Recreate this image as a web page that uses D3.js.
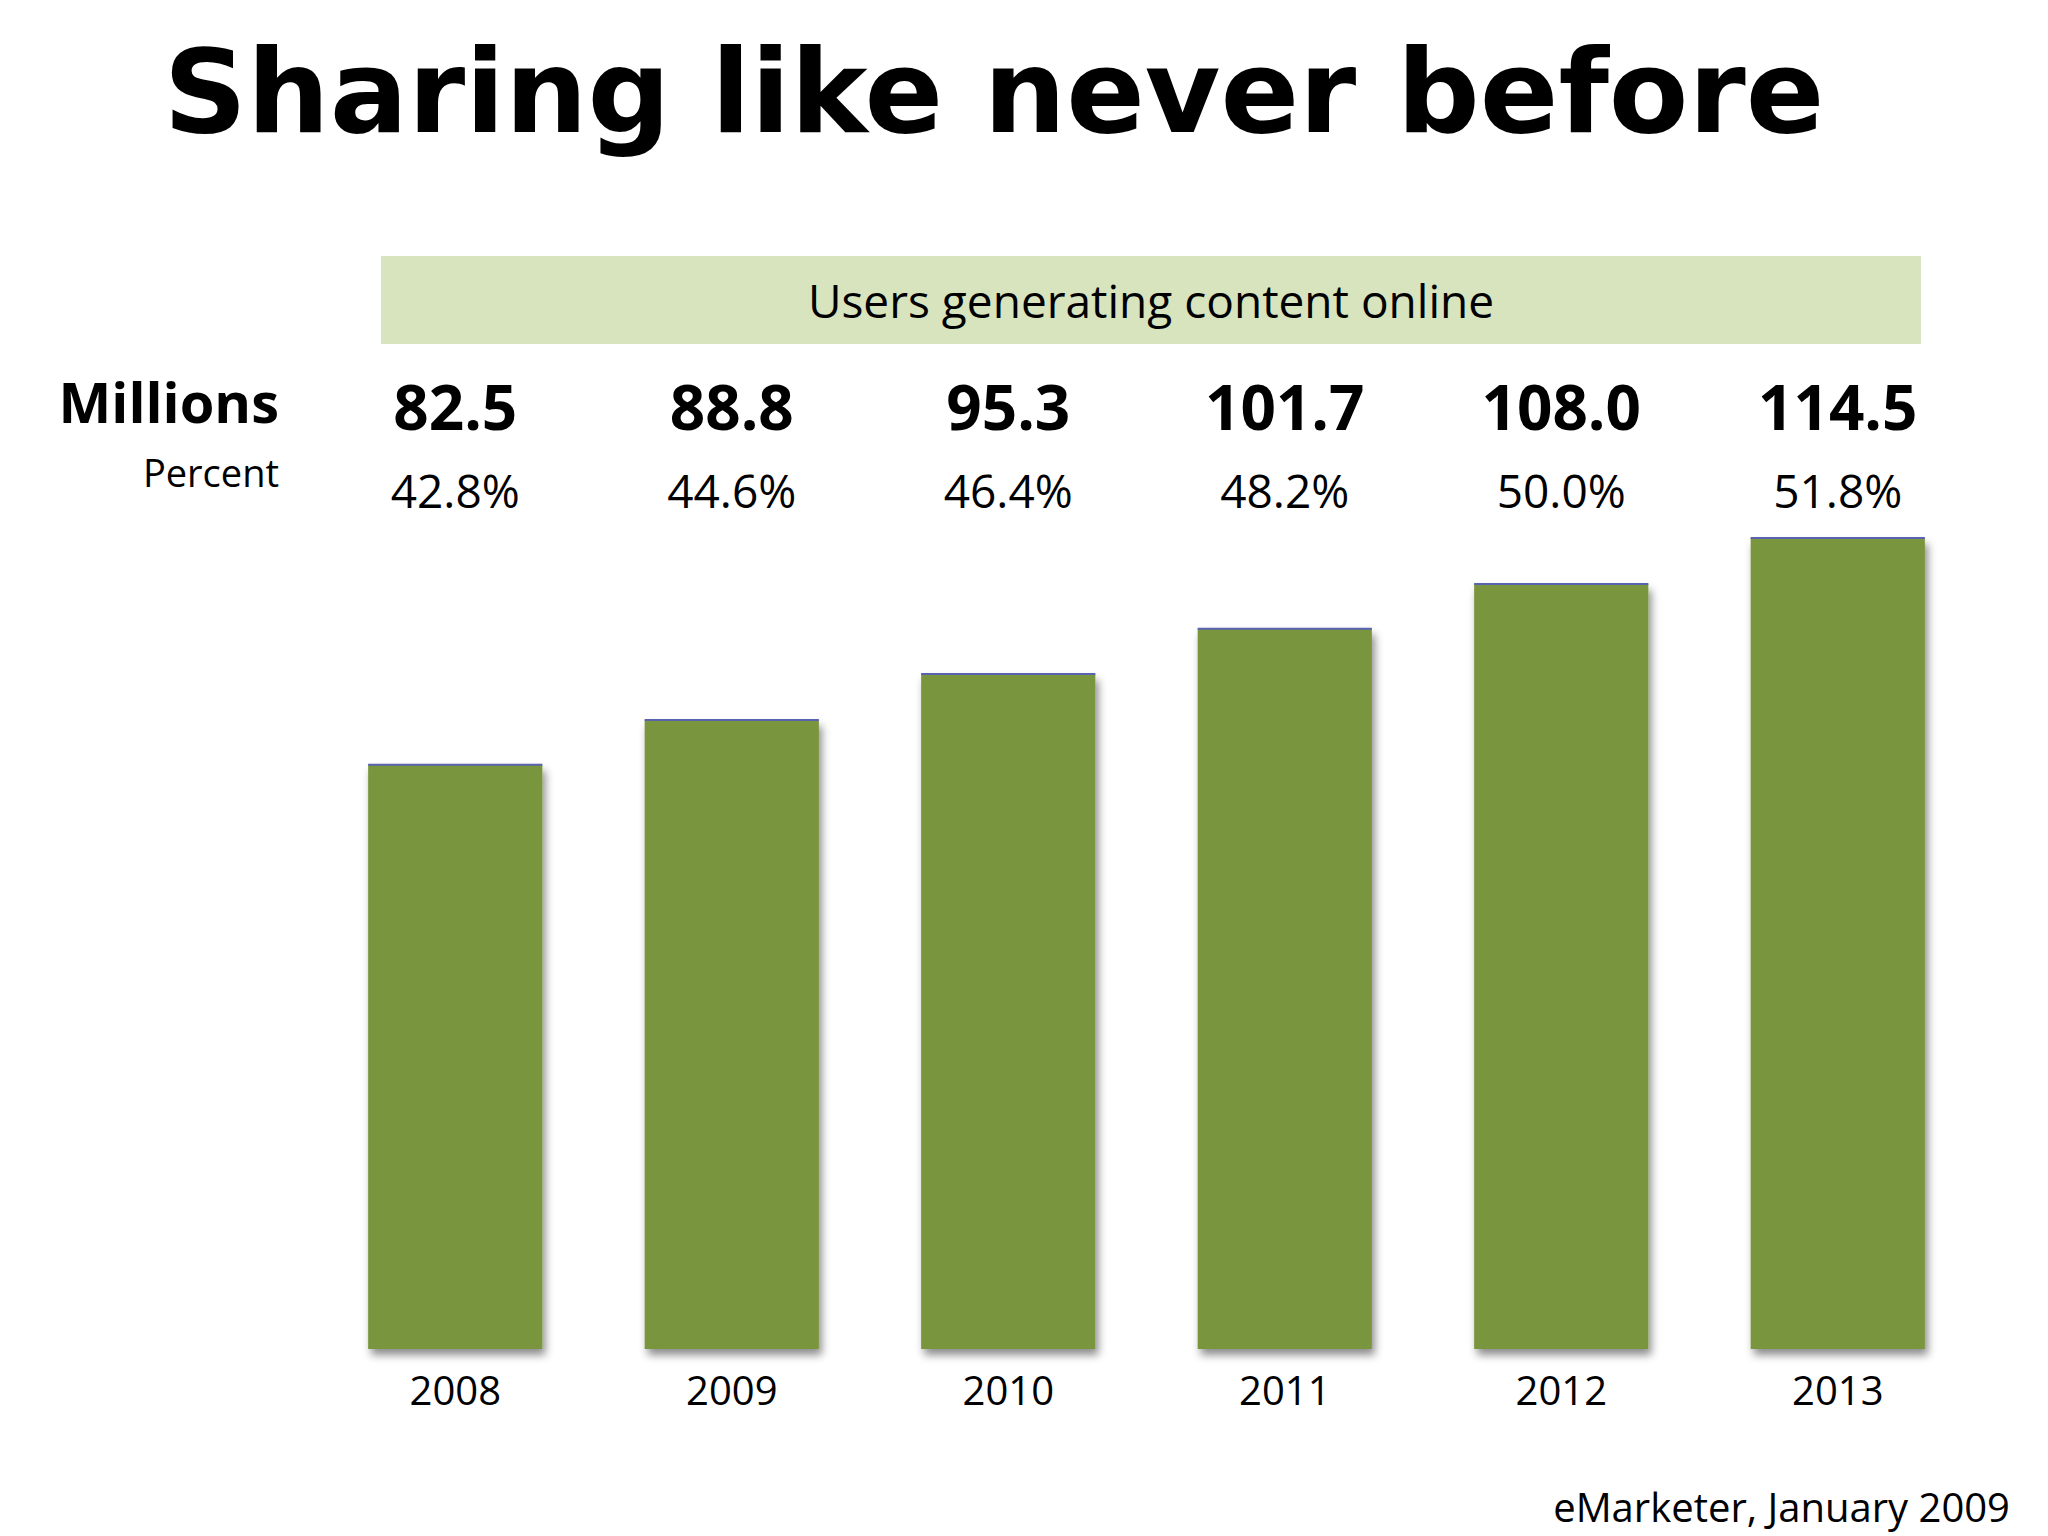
<!DOCTYPE html>
<html><head><meta charset="utf-8">
<script src="https://cdn.jsdelivr.net/npm/d3@7"></script>
<style>body{margin:0;background:#fff}</style></head>
<body><svg id="c" width="2048" height="1536"></svg>
<script>
const years = ["2008","2009","2010","2011","2012","2013"];
const millions = [82.5, 88.8, 95.3, 101.7, 108.0, 114.5];
const percents = ["42.8%","44.6%","46.4%","48.2%","50.0%","51.8%"];
const valueLabels = ["82.5","88.8","95.3","101.7","108.0","114.5"];

const svg = d3.select("#c");
const defs = svg.append("defs");
const f = defs.append("filter").attr("id","sh").attr("x","-10%").attr("y","-10%").attr("width","130%").attr("height","130%");
f.append("feDropShadow").attr("dx",3).attr("dy",6).attr("stdDeviation",4).attr("flood-color","#000").attr("flood-opacity",0.45);

const x = d3.scaleBand().domain(years).range([317, 1976]).paddingInner(0.37).paddingOuter(0.185);
const y = d3.scaleLinear().domain([0, 114.5]).range([1349, 538]);
const font = "'Open Sans', Lato, sans-serif";

svg.append("text").attr("x",994).attr("y",132).attr("text-anchor","middle")
  .attr("font-family","'DejaVu Sans', sans-serif").attr("font-weight","bold").attr("font-size",116)
  .text("Sharing like never before");

svg.append("rect").attr("x",381).attr("y",256).attr("width",1540).attr("height",88).attr("fill","#d7e4bd");
svg.append("text").attr("x",1151).attr("y",318).attr("text-anchor","middle").attr("font-family",font)
  .attr("font-size",46).text("Users generating content online");

svg.append("text").attr("x",279).attr("y",423).attr("text-anchor","end").attr("font-family",font)
  .attr("font-weight","bold").attr("font-size",56).text("Millions");
svg.append("text").attr("x",279).attr("y",487).attr("text-anchor","end").attr("font-family",font)
  .attr("font-size",38).text("Percent");

const g = svg.append("g");
g.selectAll("rect.bar").data(years).join("rect").attr("class","bar")
  .attr("x",d=>x(d)).attr("width",x.bandwidth())
  .attr("y",(d,i)=>y(millions[i])).attr("height",(d,i)=>y(0)-y(millions[i]))
  .attr("fill","#79953e").attr("filter","url(#sh)");
g.selectAll("line.top").data(years).join("line")
  .attr("x1",d=>x(d)).attr("x2",d=>x(d)+x.bandwidth())
  .attr("y1",(d,i)=>y(millions[i])).attr("y2",(d,i)=>y(millions[i]))
  .attr("stroke","#5a63b0").attr("stroke-width",2);

const cx = d => x(d)+x.bandwidth()/2;
svg.selectAll("text.val").data(years).join("text").attr("x",cx).attr("y",430)
  .attr("text-anchor","middle").attr("font-family",font).attr("font-weight","bold").attr("font-size",62)
  .text((d,i)=>valueLabels[i]);
svg.selectAll("text.pct").data(years).join("text").attr("x",cx).attr("y",508)
  .attr("text-anchor","middle").attr("font-family",font).attr("font-size",46)
  .text((d,i)=>percents[i]);

const ax = svg.append("g").attr("transform","translate(0,1349)")
  .call(d3.axisBottom(x).tickSize(0).tickPadding(20));
ax.select(".domain").remove();
ax.selectAll("text").attr("font-family",font).attr("font-size",40).attr("fill","#000").attr("dy","0.9em");

svg.append("text").attr("x",2010).attr("y",1522).attr("text-anchor","end").attr("font-family",font)
  .attr("font-size",40).text("eMarketer, January 2009");
</script></body></html>
